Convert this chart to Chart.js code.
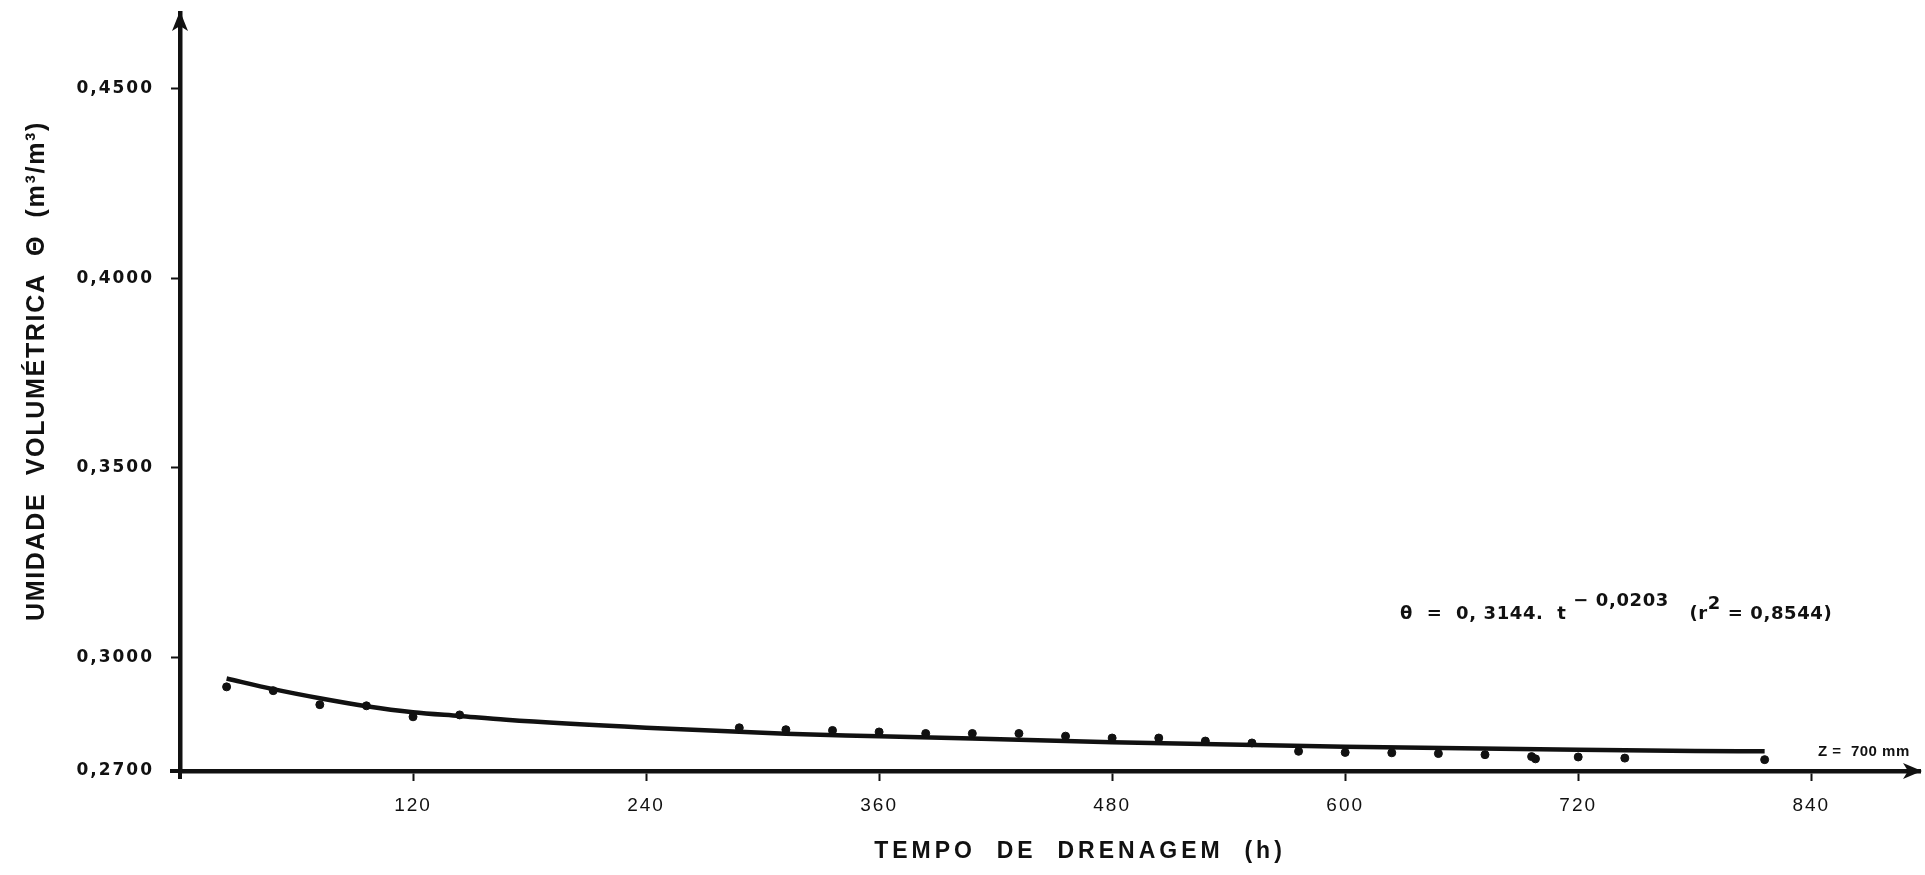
<!DOCTYPE html>
<html>
<head>
<meta charset="utf-8">
<title>Umidade volumétrica x tempo de drenagem</title>
<script src="https://cdn.jsdelivr.net/npm/chart.js@4.4.1/dist/chart.umd.min.js"></script>
<style>
  html, body { margin: 0; padding: 0; background: #fff; }
  #wrap { width: 1925px; height: 875px; }
</style>
</head>
<body>
<div id="wrap"><canvas id="drainageChart" width="1925" height="875"></canvas></div>
<script>
// measured moisture at each sampling time (h)
const sampleHours = [24, 48, 72, 96, 120, 144, 288, 312, 336, 360, 384, 408, 432, 456,
  480, 504, 528, 552, 576, 600, 624, 648, 672, 696, 698, 720, 744, 816];
const sampleMoisture = [0.2922, 0.2912, 0.2875, 0.2872, 0.2843, 0.2848, 0.2814, 0.2809,
  0.2807, 0.2803, 0.2799, 0.2799, 0.2799, 0.2792, 0.2787, 0.2787, 0.2779, 0.2774, 0.2752,
  0.2749, 0.2748, 0.2746, 0.2743, 0.2738, 0.2732, 0.2737, 0.2734, 0.2730];

// fitted curve
const fitHours = [24, 48, 72, 96, 120, 144, 168, 240, 312, 360, 480, 600, 720, 780, 816];
const fitMoisture = [0.2944, 0.2916, 0.2892, 0.2871, 0.2855, 0.2845, 0.2835, 0.2814,
  0.2798, 0.2792, 0.2776, 0.2764, 0.2756, 0.2753, 0.2752];

const xTicks = [120, 240, 360, 480, 600, 720, 840];
const yTicks = [0.27, 0.30, 0.35, 0.40, 0.45];

const INK = "#111";

function toPoints(xs, ys) {
  return xs.map((x, i) => ({ x: x, y: ys[i] }));
}

function decimalComma(value) {
  return value.toFixed(4).replace(".", ",");
}

// arrows, axis titles and the equation label
const annotations = {
  id: "annotations",
  beforeDraw(chart) {
    chart.ctx.letterSpacing = "2px";
  },
  afterDraw(chart) {
    const ctx = chart.ctx;
    const { left, right, top, bottom } = chart.chartArea;
    ctx.save();
    ctx.fillStyle = INK;
    ctx.strokeStyle = INK;

    // axis stubs past the origin
    ctx.lineWidth = 4;
    ctx.beginPath();
    ctx.moveTo(left, bottom);
    ctx.lineTo(left, bottom + 8);
    ctx.moveTo(left - 10, bottom);
    ctx.lineTo(left, bottom);
    ctx.stroke();

    // arrow heads
    ctx.beginPath();
    ctx.moveTo(left, top - 2);
    ctx.lineTo(left - 8, top + 18);
    ctx.lineTo(left, top + 13);
    ctx.lineTo(left + 8, top + 18);
    ctx.closePath();
    ctx.fill();

    ctx.beginPath();
    ctx.moveTo(right + 2, bottom);
    ctx.lineTo(right - 17, bottom - 8);
    ctx.lineTo(right - 12, bottom);
    ctx.lineTo(right - 17, bottom + 8);
    ctx.closePath();
    ctx.fill();

    // y title
    ctx.save();
    ctx.translate(37, 371);
    ctx.rotate(-Math.PI / 2);
    ctx.font = "bold 25px 'Liberation Sans'";
    ctx.letterSpacing = "1.7px";
    ctx.textAlign = "center";
    ctx.textBaseline = "middle";
    ctx.fillText("UMIDADE  VOLUMÉTRICA  Θ  (m³/m³)", 0, 0);
    ctx.restore();

    // x title
    ctx.font = "bold 23px 'Liberation Sans'";
    ctx.letterSpacing = "4px";
    ctx.textAlign = "center";
    ctx.textBaseline = "middle";
    ctx.fillText("TEMPO  DE  DRENAGEM  (h)", 1080, 852);

    // depth label
    ctx.font = "bold 15px 'Liberation Sans'";
    ctx.letterSpacing = "0.5px";
    ctx.textAlign = "left";
    ctx.textBaseline = "alphabetic";
    ctx.fillText("Z =  700 mm", 1818, 756);

    // fitted equation
    ctx.font = "bold 18px 'DejaVu Sans'";
    ctx.letterSpacing = "0.6px";
    let x = 1400;
    const base = 619;
    const parts = [
      ["θ  =  0, 3144.  t", 0],
      [" − 0,0203", -13],
      ["   (r", 0],
      ["2", -10],
      [" = 0,8544)", 0],
    ];
    parts.forEach(([text, dy]) => {
      ctx.fillText(text, x, base + dy);
      x += ctx.measureText(text).width;
    });

    ctx.restore();
    ctx.letterSpacing = "0px";
  },
};

new Chart(document.getElementById("drainageChart"), {
  type: "scatter",
  data: {
    datasets: [
      {
        label: "Medido",
        data: toPoints(sampleHours, sampleMoisture),
        backgroundColor: INK,
        borderColor: INK,
        pointRadius: 4,
        showLine: false,
      },
      {
        label: "Ajuste",
        data: toPoints(fitHours, fitMoisture),
        borderColor: INK,
        borderWidth: 4.5,
        pointRadius: 0,
        showLine: true,
        cubicInterpolationMode: "monotone",
      },
    ],
  },
  options: {
    responsive: false,
    animation: false,
    devicePixelRatio: 1,
    layout: { padding: { top: 13, right: 5, left: 0, bottom: 0 } },
    plugins: {
      legend: { display: false },
      tooltip: { enabled: false },
    },
    scales: {
      x: {
        type: "linear",
        min: 0,
        max: 896,
        afterBuildTicks: (scale) => {
          scale.ticks = xTicks.map((v) => ({ value: v }));
        },
        afterFit: (scale) => {
          scale.height = 104;
          scale.paddingLeft = 0;
          scale.paddingRight = 0;
        },
        ticks: {
          callback: (value) => String(value),
          color: INK,
          font: { family: "Liberation Sans", size: 19 },
          padding: 13,
          maxRotation: 0,
        },
        grid: {
          drawOnChartArea: false,
          drawTicks: true,
          tickLength: 10,
          tickWidth: 2,
          tickColor: INK,
        },
        border: { display: true, width: 4.5, color: INK },
      },
      y: {
        type: "linear",
        min: 0.27,
        max: 0.47,
        afterBuildTicks: (scale) => {
          scale.ticks = yTicks.map((v) => ({ value: v }));
        },
        afterFit: (scale) => {
          scale.width = 180;
          scale.paddingTop = 0;
          scale.paddingBottom = 0;
        },
        ticks: {
          callback: (value) => decimalComma(value),
          color: INK,
          font: { family: "DejaVu Sans", size: 17, weight: "bold" },
          padding: 17,
        },
        grid: {
          drawOnChartArea: false,
          drawTicks: true,
          tickLength: 9,
          tickWidth: 2,
          tickColor: INK,
        },
        border: { display: true, width: 4.5, color: INK },
      },
    },
  },
  plugins: [annotations],
});
</script>
</body>
</html>
